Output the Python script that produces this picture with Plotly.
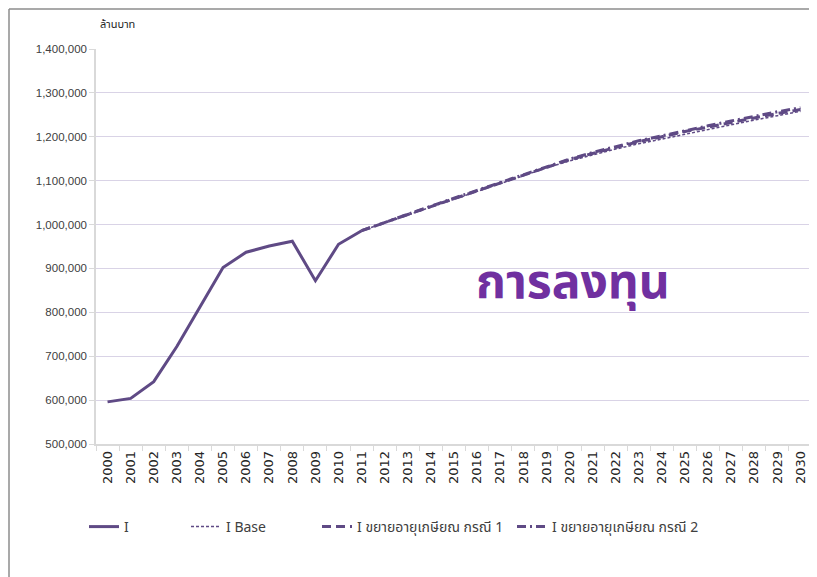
import plotly.graph_objects as go

years = [str(y) for y in range(2000, 2031)]
hist_years = years[:12]
proj_years = years[11:]

actual = [596000, 604000, 642000, 722000, 812000, 902000, 937000, 951000, 962000, 872000, 955000, 986000]
base = [986000, 1004000, 1022000, 1040000, 1058000, 1075000, 1093000, 1111000, 1129000, 1145000,
        1159000, 1172000, 1184000, 1195000, 1206000, 1217000, 1228000, 1238000, 1248000, 1258000]
case1 = [986000, 1005000, 1023000, 1041000, 1059000, 1077000, 1095000, 1113000, 1131000, 1148000,
         1162000, 1176000, 1189000, 1200000, 1212000, 1222000, 1233000, 1243000, 1253000, 1262000]
case2 = [986000, 1005000, 1024000, 1042000, 1060000, 1078000, 1096000, 1114000, 1132000, 1149000,
         1164000, 1178000, 1191000, 1202000, 1214000, 1225000, 1236000, 1247000, 1257000, 1266000]

names = ["I", "I Base", "I ขยายอายุเกษียณ กรณี 1", "I ขยายอายุเกษียณ กรณี 2"]
title_text = "การลงทุน"
unit_text = "ล้านบาท"

col = "#5F4A85"
FONT = "Tahoma, 'Noto Sans Thai', 'Noto Sans', 'DejaVu Sans', sans-serif"

fig = go.Figure()
fig.add_trace(go.Scatter(x=hist_years, y=actual, mode="lines", name=names[0],
                         line=dict(color=col, width=3), legend="legend"))
fig.add_trace(go.Scatter(x=proj_years, y=base, mode="lines", name=names[1],
                         line=dict(color=col, width=1.5, dash="3px,2px"), legend="legend2"))
fig.add_trace(go.Scatter(x=proj_years, y=case1, mode="lines", name=names[2],
                         line=dict(color=col, width=3, dash="9px,5px"), legend="legend3"))
fig.add_trace(go.Scatter(x=proj_years, y=case2, mode="lines", name=names[3],
                         line=dict(color=col, width=3, dash="9px,4px,2px,4px"), legend="legend4"))

OFF = 8  # page body margin
W, H = 817 - OFF, 577 - OFF
L, T = 96 - OFF, 49 - OFF
R = W - (812 - OFF)
B = H - (444 - OFF)
pw, ph = W - L - R, H - T - B

def px(xp):
    return (xp - OFF - L) / pw

def py(yp):
    return (H - B - (yp - OFF)) / ph

leg_common = dict(orientation="h", yanchor="middle", xanchor="left",
                  font=dict(family=FONT, size=14, color="#404040"),
                  bgcolor="rgba(0,0,0,0)", borderwidth=0, tracegroupgap=0)

fig.update_layout(
    width=W, height=H,
    margin=dict(l=L, r=R, t=T, b=B),
    paper_bgcolor="white", plot_bgcolor="white",
    showlegend=True,
    legend=dict(x=px(84), y=py(527), **leg_common),
    legend2=dict(x=px(186), y=py(527), **leg_common),
    legend3=dict(x=px(317), y=py(527), **leg_common),
    legend4=dict(x=px(512), y=py(527), **leg_common),
    xaxis=dict(type="category", categoryorder="array", categoryarray=years,
               range=[-0.5, 30.5], tickangle=-90, tickson="boundaries",
               ticks="outside", ticklen=5, tickcolor="#D9D9D9",
               showline=True, linecolor="#D9D9D9", linewidth=1.5,
               showgrid=False, zeroline=False,
               tickfont=dict(family="'DejaVu Sans', sans-serif", size=13, color="#262626")),
    yaxis=dict(range=[500000, 1400000], dtick=100000, tickformat=",",
               ticks="outside", ticklen=5, tickcolor="#D9D9D9",
               showline=True, linecolor="#D9D9D9", linewidth=1.5,
               showgrid=True, gridcolor="#D9D3E6", gridwidth=1, zeroline=False,
               tickfont=dict(family="Tahoma, 'Liberation Sans', sans-serif", size=11.5, color="#404040")),
    annotations=[
        dict(text=title_text, x=px(573), y=py(283), xref="paper", yref="paper",
             showarrow=False, xanchor="center", yanchor="middle",
             font=dict(family=FONT, size=48, color="#7030A0", weight="bold")),
        dict(text=unit_text, x=px(98), y=py(24), xref="paper", yref="paper",
             showarrow=False, xanchor="left", yanchor="middle",
             font=dict(family=FONT, size=11, color="#262626")),
    ],
    shapes=[
        dict(type="line", xref="paper", yref="paper", x0=px(9), x1=px(9), y0=py(9), y1=py(600),
             line=dict(color="#8C8C8C", width=1.5)),
        dict(type="line", xref="paper", yref="paper", x0=px(9), x1=px(830), y0=py(9), y1=py(9),
             line=dict(color="#8C8C8C", width=1.5)),
    ],
)

fig.write_html("out.html")
